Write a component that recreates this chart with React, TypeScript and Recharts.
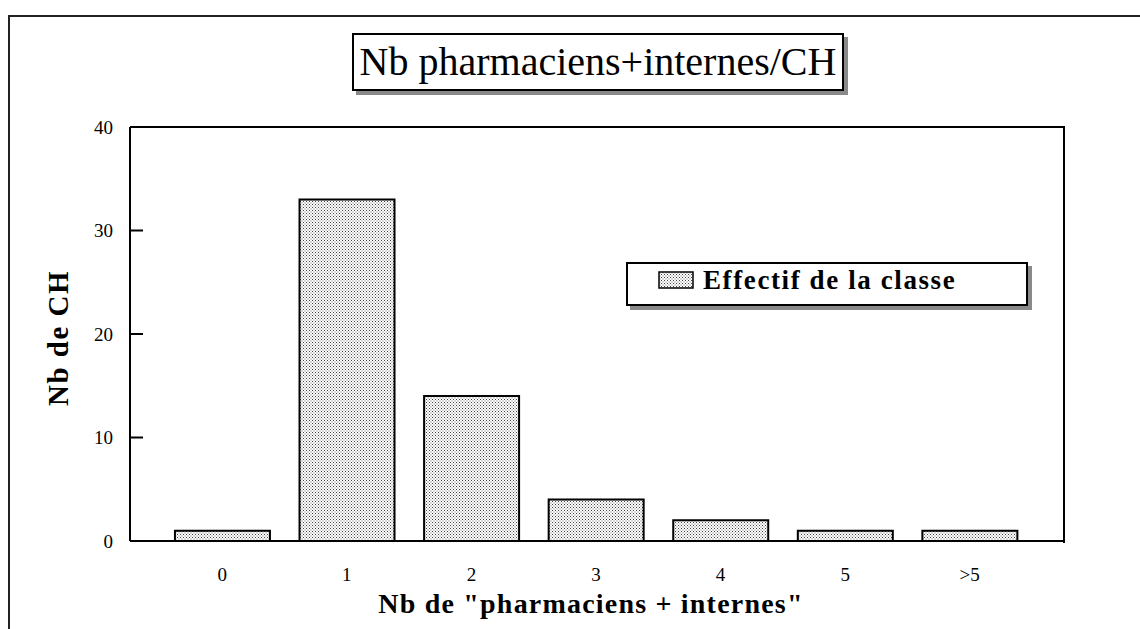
import { BarChart, Bar, XAxis, YAxis } from 'recharts';

const categories = ['0', '1', '2', '3', '4', '5', '>5'];
const effectifs = [1, 33, 14, 4, 2, 1, 1];
const yTicks = [0, 10, 20, 30, 40];

const data = categories.map((c, i) => ({ classe: c, effectif: effectifs[i] }));

const serif = '"Liberation Serif", "Times New Roman", serif';

const YTitle = ({ viewBox }: any) => {
    const cx = viewBox.x + 68;
    const cy = viewBox.y + viewBox.height / 2 + 4;
    return (
        <text
            x={cx}
            y={cy}
            transform={`rotate(-90 ${cx} ${cy})`}
            textAnchor="middle"
            fontFamily={serif}
            fontWeight="bold"
            fontSize={29}
            letterSpacing={1.5}
            fill="#000"
        >
            Nb de CH
        </text>
    );
};

const XTitle = ({ viewBox }: any) => (
    <text
        x={viewBox.x + viewBox.width / 2 - 6}
        y={viewBox.y + viewBox.height - 16}
        textAnchor="middle"
        fontFamily={serif}
        fontWeight="bold"
        fontSize={28}
        letterSpacing={1.2}
        fill="#000"
    >
        Nb de "pharmaciens + internes"
    </text>
);

const LegendBox = () => (
    <div
        style={{
            position: 'absolute',
            left: 626,
            top: 262,
            width: 402,
            height: 44,
            border: '2px solid #000',
            boxShadow: '4px 4px 0 #8a8a8a',
            background: '#fff',
            display: 'flex',
            alignItems: 'center',
            paddingLeft: 30,
            paddingBottom: 8,
            boxSizing: 'border-box',
            fontFamily: serif,
        }}
    >
        <svg width={36} height={18} style={{ marginRight: 9 }}>
            <rect x={1} y={1} width={34} height={16} fill="url(#dots)" stroke="#000" strokeWidth={1.5} />
        </svg>
        <span style={{ fontWeight: 'bold', fontSize: 27, letterSpacing: 1.6 }}>Effectif de la classe</span>
    </div>
);

export default function App() {
    return (
        <div style={{ position: 'absolute', left: 0, top: 0, width: 1140, height: 629, overflow: 'hidden', background: '#fff' }}>
            <div style={{ position: 'absolute', left: 8, top: 15, width: 1300, height: 800, borderTop: '2px solid #222', borderLeft: '2px solid #222' }} />
            <div
                style={{
                    position: 'absolute',
                    left: 352,
                    top: 33,
                    width: 492,
                    height: 58,
                    border: '2px solid #000',
                    boxShadow: '4px 4px 0 #8a8a8a',
                    background: '#fff',
                    boxSizing: 'border-box',
                    fontFamily: serif,
                    fontSize: 40,
                    lineHeight: '54px',
                    textAlign: 'center',
                }}
            >
                Nb pharmaciens+internes/CH
            </div>
            {/* top and right edges of the plot frame */}
            <div style={{ position: 'absolute', left: 130, top: 126, width: 933, height: 415, borderTop: '2px solid #000', borderRight: '2px solid #000' }} />
            <div style={{ position: 'absolute', left: 0, top: 0 }}>
                <BarChart
                    width={1140}
                    height={629}
                    data={data}
                    margin={{ top: 127, right: 76, bottom: 0, left: 0 }}
                    barCategoryGap="12%"
                >
                    <defs>
                        <pattern id="dots" width={3} height={3} patternUnits="userSpaceOnUse">
                            <rect width={3} height={3} fill="#fff" />
                            <rect x={0} y={0} width={1} height={1} fill="#444" />
                            <rect x={1.5} y={1.5} width={1} height={1} fill="#666" />
                        </pattern>
                    </defs>
                    <XAxis
                        dataKey="classe"
                        height={88}
                        padding={{ left: 30, right: 32 }}
                        axisLine={{ stroke: '#000', strokeWidth: 2 }}
                        tickLine={false}
                        tickSize={0}
                        tickMargin={27}
                        tick={{ fill: '#000', fontSize: 19, fontFamily: serif }}
                        label={<XTitle />}
                    />
                    <YAxis
                        width={130}
                        domain={[0, 40]}
                        ticks={yTicks}
                        interval={0}
                        axisLine={{ stroke: '#000', strokeWidth: 2 }}
                        tickLine={{ stroke: '#000', strokeWidth: 2 }}
                        tickSize={-13}
                        tickMargin={30}
                        tick={{ fill: '#000', fontSize: 19, fontFamily: serif }}
                        label={<YTitle />}
                    />
                    <Bar
                        dataKey="effectif"
                        name="Effectif de la classe"
                        fill="url(#dots)"
                        stroke="#000"
                        strokeWidth={2}
                        isAnimationActive={false}
                    />
                </BarChart>
            </div>
            <LegendBox />
        </div>
    );
}
